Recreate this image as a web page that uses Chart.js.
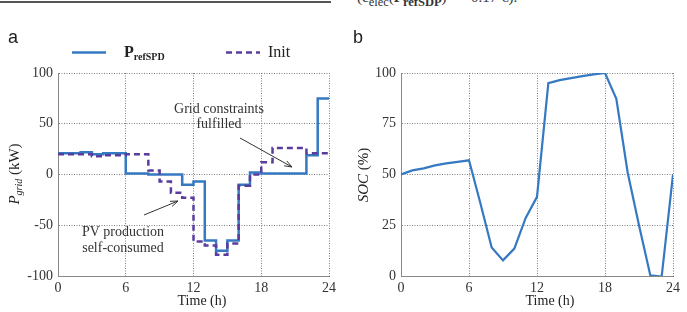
<!DOCTYPE html>
<html>
<head>
<meta charset="utf-8">
<script src="https://cdn.jsdelivr.net/npm/chart.js@4.4.1/dist/chart.umd.min.js"></script>
<style>
    body { margin: 0; background: #fff; width: 687px; height: 312px; overflow: hidden; position: relative; font-family: "Liberation Serif", serif; }
    canvas { position: absolute; top: 0; }
    #gridChart { left: 0; }
    #socChart { left: 340px; }
    #rule { position: absolute; left: 0; top: 1px; width: 331px; height: 2px; background: #555; }
    #caption { position: absolute; left: 357px; top: -11px; font-size: 15px; color: #333; white-space: nowrap; }
</style>
</head>
<body>
<div id="rule"></div>
<div id="caption">(c<sub>elec</sub>(<b>P</b><sub><b>refSDP</b></sub>) = &minus;0.17 &euro;).</div>
<canvas id="gridChart" width="340" height="312"></canvas>
<canvas id="socChart" width="347" height="312"></canvas>
<script>
// hourly values
const hours = [0, 1, 2, 3, 4, 5, 6, 7, 8, 9, 10, 11, 12, 13, 14, 15, 16, 17, 18, 19, 20, 21, 22, 23, 24];
const pRefSpd = [21, 21, 22, 20, 21, 21, 1, 1, 0, 0, 0, -10, -7, -65, -75, -65, -10, 2, 1, 1, 1, 1, 19, 75];
const pInit = [20, 20, 20, 18, 19, 19, 20, 20, 4, -7, -18, -23, -66, -70, -79, -68, -11, 0, 12, 26, 26, 26, 21, 21];
const soc = [50, 52, 53, 54.5, 55.5, 56.2, 57, 36, 14, 7.7, 13.5, 28.6, 39, 95, 96.5, 97.5, 98.5, 99.3, 100, 87.3, 51, 25, 0.3, -0.3, 50];

const timeTicks = [0, 6, 12, 18, 24];
const powerTicks = [-100, -50, 0, 50, 100];
const socTicks = [0, 25, 50, 75, 100];

const blue = '#3479c2';
const purple = '#5a3c9e';
const serif = '"Liberation Serif", "Times New Roman", serif';

// step series: hour h holds its value until h+1
function stepPoints(vals) {
    return hours.map((h, i) => ({ x: h, y: vals[Math.max(i - 1, 0)] }));
}

function axis(min, max, ticks, isX) {
    return {
        type: 'linear',
        min: min,
        max: max,
        afterBuildTicks: s => { s.ticks = ticks.map(v => ({ value: v })); },
        afterFit: s => { if (isX) s.height = 36; },
        grid: { color: '#808080', lineWidth: 1, drawTicks: false },
        border: { display: true, color: '#888', width: 1, dash: [1, 1.5] },
        ticks: {
            color: '#333',
            padding: isX ? 4 : 5,
            font: { family: serif, size: 14 }
        }
    };
}

function drawSub(ctx, x, y, main, sub, mainFont, subFont, align) {
    ctx.font = mainFont;
    const w1 = ctx.measureText(main).width;
    ctx.font = subFont;
    const w2 = ctx.measureText(sub).width;
    let x0 = x;
    if (align === 'center') x0 = x - (w1 + w2) / 2;
    ctx.textAlign = 'left';
    ctx.textBaseline = 'alphabetic';
    ctx.font = mainFont;
    ctx.fillText(main, x0, y);
    ctx.font = subFont;
    ctx.fillText(sub, x0 + w1, y + 3);
    return x0 + w1 + w2;
}

function arrow(ctx, x1, y1, x2, y2) {
    ctx.save();
    ctx.strokeStyle = '#333';
    ctx.lineWidth = 1;
    ctx.beginPath();
    ctx.moveTo(x1, y1);
    ctx.lineTo(x2, y2);
    const a = Math.atan2(y2 - y1, x2 - x1);
    ctx.moveTo(x2 - 8 * Math.cos(a - 0.35), y2 - 8 * Math.sin(a - 0.35));
    ctx.lineTo(x2, y2);
    ctx.lineTo(x2 - 8 * Math.cos(a + 0.35), y2 - 8 * Math.sin(a + 0.35));
    ctx.stroke();
    ctx.restore();
}

const gridExtras = {
    id: 'gridExtras',
    afterDraw(chart) {
        const ctx = chart.ctx;
        ctx.save();
        ctx.fillStyle = '#222';
        ctx.font = '18px "Liberation Sans", Arial, sans-serif';
        ctx.textBaseline = 'alphabetic';
        ctx.fillText('a', 8, 43);

        // legend
        ctx.strokeStyle = blue;
        ctx.lineWidth = 2.5;
        ctx.beginPath(); ctx.moveTo(72, 52.5); ctx.lineTo(106, 52.5); ctx.stroke();
        ctx.fillStyle = '#222';
        drawSub(ctx, 124, 57, 'P', 'refSPD', 'bold 16px ' + serif, 'bold 10px ' + serif, 'left');
        ctx.strokeStyle = purple;
        ctx.setLineDash([6, 4]);
        ctx.beginPath(); ctx.moveTo(226, 52.5); ctx.lineTo(260, 52.5); ctx.stroke();
        ctx.setLineDash([]);
        ctx.font = '16px ' + serif;
        ctx.textAlign = 'left';
        ctx.fillText('Init', 268, 57);

        // annotations
        ctx.fillStyle = '#333';
        ctx.font = '14px ' + serif;
        ctx.textAlign = 'center';
        ctx.fillText('Grid constraints', 219, 113);
        ctx.fillText('fulfilled', 219, 128);
        ctx.fillText('PV production', 123, 236);
        ctx.fillText('self-consumed', 123, 252);
        arrow(ctx, 240, 138, 292, 167);
        arrow(ctx, 144, 215, 178, 201);

        // axis titles
        ctx.fillStyle = '#222';
        ctx.font = '14px ' + serif;
        ctx.textAlign = 'center';
        ctx.fillText('Time (h)', 202, 305);
        ctx.translate(19, 174);
        ctx.rotate(-Math.PI / 2);
        ctx.font = 'italic 15px ' + serif;
        const wP = ctx.measureText('P').width;
        ctx.font = 'italic 10px ' + serif;
        const wG = ctx.measureText('grid').width;
        ctx.font = '15px ' + serif;
        const wK = ctx.measureText(' (kW)').width;
        let x = -(wP + wG + wK) / 2;
        x = drawSub(ctx, x, 0, 'P', 'grid', 'italic 15px ' + serif, 'italic 10px ' + serif, 'left');
        ctx.font = '15px ' + serif;
        ctx.fillText(' (kW)', x, 0);
        ctx.restore();
    }
};

const socExtras = {
    id: 'socExtras',
    afterDraw(chart) {
        const ctx = chart.ctx;
        ctx.save();
        ctx.fillStyle = '#222';
        ctx.font = '18px "Liberation Sans", Arial, sans-serif';
        ctx.fillText('b', 13, 43);
        ctx.font = '14px ' + serif;
        ctx.textAlign = 'center';
        ctx.fillText('Time (h)', 210, 305);
        ctx.translate(28, 175);
        ctx.rotate(-Math.PI / 2);
        ctx.font = 'italic 15px ' + serif;
        const w1 = ctx.measureText('SOC').width;
        ctx.font = '15px ' + serif;
        const w2 = ctx.measureText(' (%)').width;
        ctx.textAlign = 'left';
        ctx.font = 'italic 15px ' + serif;
        ctx.fillText('SOC', -(w1 + w2) / 2, 0);
        ctx.font = '15px ' + serif;
        ctx.fillText(' (%)', -(w1 + w2) / 2 + w1, 0);
        ctx.restore();
    }
};

function baseOptions(yMin, yMax, yTicks, yWidth, padRight) {
    const y = axis(yMin, yMax, yTicks, false);
    y.afterFit = s => { s.width = yWidth; };
    return {
        responsive: false,
        animation: false,
        layout: { padding: { left: 0, right: padRight, top: 73, bottom: 0 } },
        plugins: { legend: { display: false }, tooltip: { enabled: false } },
        elements: { point: { radius: 0 }, line: { tension: 0 } },
        scales: { x: axis(0, 24, timeTicks, true), y: y }
    };
}

new Chart(document.getElementById('gridChart'), {
    type: 'line',
    data: {
        datasets: [
            {
                label: 'Init',
                data: stepPoints(pInit),
                stepped: 'after',
                borderColor: purple,
                borderWidth: 2.5,
                borderDash: [6, 4],
                fill: false
            },
            {
                label: 'PrefSPD',
                data: stepPoints(pRefSpd),
                stepped: 'after',
                borderColor: blue,
                borderWidth: 2.5,
                fill: false
            }
        ]
    },
    options: baseOptions(-100, 100, powerTicks, 58, 9),
    plugins: [gridExtras]
});

new Chart(document.getElementById('socChart'), {
    type: 'line',
    data: {
        datasets: [{
            label: 'SOC',
            data: hours.map((h, i) => ({ x: h, y: soc[i] })),
            borderColor: blue,
            borderWidth: 2.2,
            fill: false
        }]
    },
    options: baseOptions(0, 100, socTicks, 61, 14),
    plugins: [socExtras]
});
</script>
</body>
</html>
